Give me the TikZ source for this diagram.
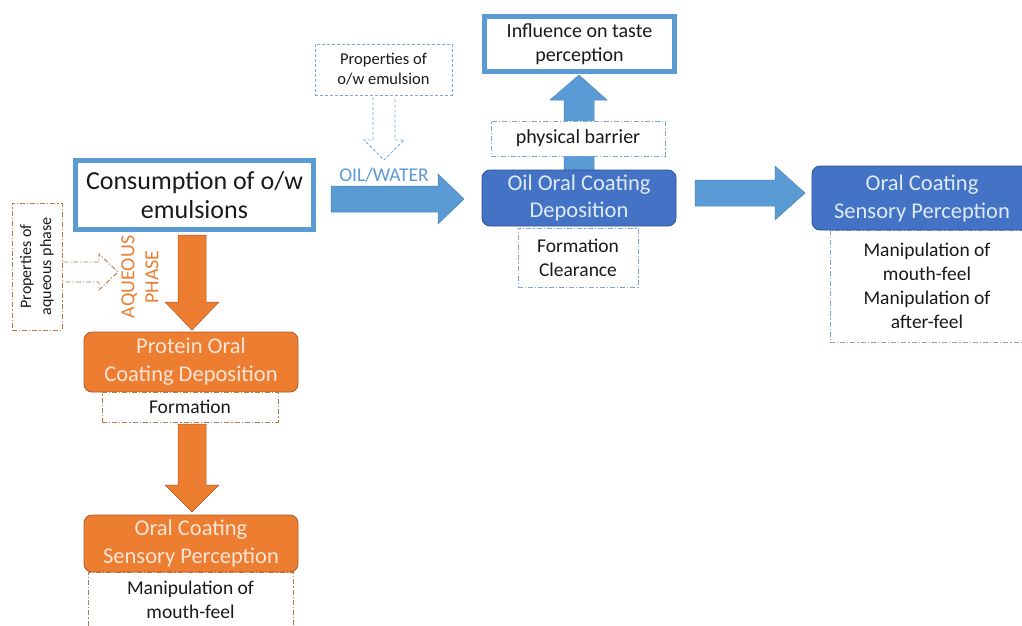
\documentclass[tikz,border=0pt]{standalone}
\usepackage{fontspec}
\setmainfont{Carlito}
\definecolor{lblue}{HTML}{5B9BD5}
\definecolor{dblue}{HTML}{4472C4}
\definecolor{dbluedk}{HTML}{2F528F}
\definecolor{orng}{HTML}{ED7D31}
\definecolor{orngdk}{HTML}{AE5A21}
\definecolor{orngtxt}{HTML}{FBE5D6}
\definecolor{bluetxt}{HTML}{DEEBF7}
\definecolor{brdash}{HTML}{B8794A}
\definecolor{bldash}{HTML}{7FA7D6}
\definecolor{txt}{HTML}{1A1A1A}
\tikzset{
  thickbox/.style={draw=lblue, line width=5pt, fill=white, text=txt, align=center, inner sep=0pt},
  obox/.style={draw=orngdk, line width=0.8pt, fill=orng, rounded corners=8pt, text=orngtxt, align=center, inner sep=0pt},
  bbox/.style={draw=dbluedk, line width=0.8pt, fill=dblue, rounded corners=8pt, text=bluetxt, align=center, inner sep=0pt},
  odd/.style={draw=brdash, line width=0.8pt, dash pattern=on 5pt off 2pt on 1.2pt off 2pt, fill=white, text=txt, align=center, inner sep=0pt},
  bdd/.style={draw=bldash, line width=0.8pt, dash pattern=on 5pt off 2pt on 1.2pt off 2pt, fill=white, text=txt, align=center, inner sep=0pt},
  bdash/.style={draw=bldash, line width=0.8pt, dash pattern=on 3pt off 2pt, fill=white, text=txt, align=center, inner sep=0pt},
  oarrow/.style={fill=orng, draw=orngdk, line width=0.5pt},
  barrow/.style={fill=lblue, draw=lblue!85!black, line width=0.5pt},
}
\begin{document}
\begin{tikzpicture}[x=1pt,y=-1pt]
\useasboundingbox (0,0) rectangle (1022,625);
\clip (0,0) rectangle (1022,625);
\fill[white] (0,0) rectangle (1022,625);

% ---------- left (orange) branch ----------
\node[thickbox, minimum width=238pt, minimum height=69pt, font=\fontsize{26}{29}\selectfont] (cons) at (194.5,195) {Consumption of o/w\\emulsions};

\draw[oarrow] (178,235) -- (206,235) -- (206,302) -- (219,302) -- (192,330) -- (165,302) -- (178,302) -- cycle;

\node[odd, minimum width=50pt, minimum height=127pt] (propaq) at (37,266.5) {};
\node[rotate=90, align=center, text=txt, font=\fontsize{16}{20}\selectfont] (propaqt) at (propaq.center) {Properties of\\aqueous phase};

\draw[draw=brdash, line width=0.9pt, dash pattern=on 5pt off 2pt on 1.2pt off 2pt] (63,262) -- (99,262) -- (99,254) -- (118,272) -- (99,290) -- (99,282) -- (63,282);

\node[rotate=90, align=center, text=orng, font=\fontsize{20}{24}\selectfont] (aq) at (140,277) {AQUEOUS\\PHASE};

\node[obox, minimum width=214pt, minimum height=60pt, font=\fontsize{22.5}{28}\selectfont] (prot) at (191,362) {Protein Oral\\Coating Deposition};
\node[odd, minimum width=176pt, minimum height=30pt, font=\fontsize{19.5}{24}\selectfont] (form1) at (190,407) {Formation};

\draw[oarrow] (178,424) -- (206,424) -- (206,485) -- (219,485) -- (192,512) -- (165,485) -- (178,485) -- cycle;

\node[odd, minimum width=205pt, minimum height=62pt, anchor=north] (man1) at (190.5,572) {};
\node[text=txt, align=center, font=\fontsize{19.5}{24}\selectfont] (man1t) at (190.5,600) {Manipulation of\\mouth-feel};
\node[obox, minimum width=214pt, minimum height=57pt, font=\fontsize{22.5}{28}\selectfont] (sens1) at (191,543.5) {Oral Coating\\Sensory Perception};

% ---------- top / right (blue) branch ----------
\node[bdash, minimum width=137pt, minimum height=51pt, font=\fontsize{16.5}{20}\selectfont] (propow) at (383.5,69.5) {Properties of\\o/w emulsion};
\draw[draw=bldash, line width=0.8pt, dash pattern=on 3pt off 2pt] (373,97) -- (373,140) -- (364,140) -- (384,160) -- (404,140) -- (395,140) -- (395,97);

\node[text=lblue, font=\fontsize{19.5}{22}\selectfont] (ow) at (384,175) {OIL/WATER};
\draw[barrow] (331,186) -- (438,186) -- (438,174) -- (464,199) -- (438,224) -- (438,212) -- (331,212) -- cycle;

\draw[barrow] (564,172) -- (564,100) -- (550,100) -- (579,75) -- (607,100) -- (594,100) -- (594,172) -- cycle;

\node[thickbox, minimum width=190pt, minimum height=55pt, font=\fontsize{20}{24}\selectfont] (infl) at (579.5,44) {Influence on taste\\perception};
\node[bdd, minimum width=174pt, minimum height=35pt, font=\fontsize{20}{24}\selectfont] (barr) at (578,138.5) {physical barrier};

\node[bbox, minimum width=194pt, minimum height=56pt, font=\fontsize{22.5}{27}\selectfont] (oil) at (579,198) {Oil Oral Coating\\Deposition};
\node[bdd, minimum width=120pt, minimum height=59pt, font=\fontsize{19.5}{24}\selectfont] (formcl) at (578,257.5) {Formation\\Clearance};

\draw[barrow] (695,180) -- (775,180) -- (775,166) -- (805,193) -- (775,220) -- (775,206) -- (695,206) -- cycle;

\node[bdd, minimum width=194pt, minimum height=112pt, font=\fontsize{19.5}{24}\selectfont] (man2) at (927,286) {Manipulation of\\mouth-feel\\Manipulation of\\after-feel};
\node[bbox, minimum width=220pt, minimum height=64pt, font=\fontsize{22.5}{28}\selectfont] (sens2) at (922,198) {Oral Coating\\Sensory Perception};
\end{tikzpicture}
\end{document}
